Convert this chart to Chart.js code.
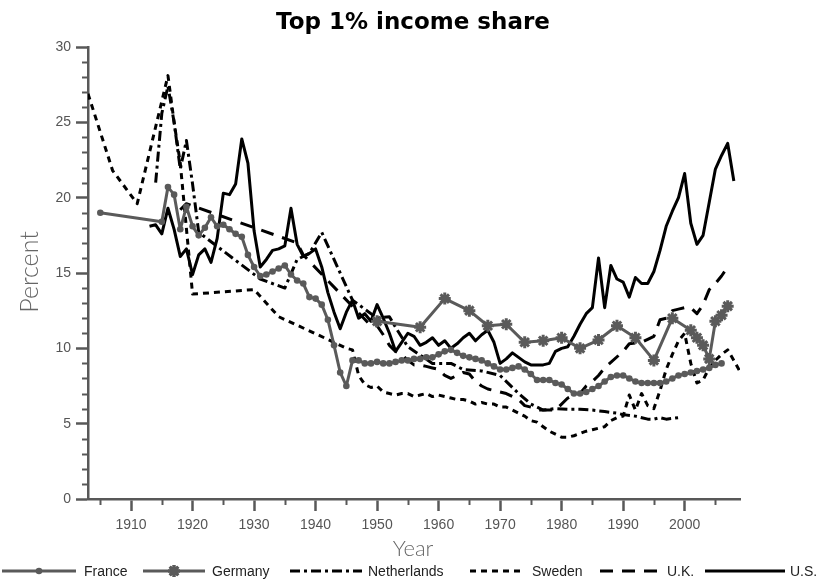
<!DOCTYPE html>
<html>
<head>
<meta charset="utf-8">
<script src="https://cdn.jsdelivr.net/npm/chart.js@4.4.1/dist/chart.umd.min.js"></script>
<style>
  html, body { margin: 0; padding: 0; background: #fff; }
  #wrap { width: 824px; height: 581px; }
</style>
</head>
<body>
<div id="wrap"><canvas id="myChart" width="824" height="581"></canvas></div>
<script>
// ---- data (top 1% income share, percent) ----
const franceYears = [1905,
  1915,1916,1917,1918,1919,1920,1921,1922,1923,1924,1925,1926,1927,1928,1929,
  1930,1931,1932,1933,1934,1935,1936,1937,1938,1939,1940,1941,1942,1943,1944,
  1945,1946,1947,1948,1949,1950,1951,1952,1953,1954,1955,1956,1957,1958,1959,
  1960,1961,1962,1963,1964,1965,1966,1967,1968,1969,1970,1971,1972,1973,1974,
  1975,1976,1977,1978,1979,1980,1981,1982,1983,1984,1985,1986,1987,1988,1989,
  1990,1991,1992,1993,1994,1995,1996,1997,1998,1999,2000,2001,2002,2003,2004,
  2005,2006];
const franceShare = [19.0,
  18.4,20.7,20.2,17.9,19.4,18.1,17.5,18.0,18.7,18.1,18.2,17.9,17.6,17.4,16.2,
  15.4,14.8,14.9,15.1,15.3,15.5,14.9,14.5,14.3,13.4,13.3,12.9,11.9,10.2,8.4,
  7.5,9.2,9.2,9.0,9.0,9.1,9.0,9.0,9.1,9.2,9.2,9.3,9.3,9.4,9.4,
  9.6,9.8,9.9,9.7,9.5,9.4,9.3,9.2,9.0,8.8,8.6,8.6,8.7,8.8,8.6,
  8.3,7.9,7.9,7.9,7.7,7.6,7.3,7.0,7.0,7.1,7.3,7.5,7.8,8.1,8.2,
  8.2,8.0,7.8,7.7,7.7,7.7,7.7,7.8,8.0,8.2,8.3,8.4,8.5,8.6,8.7,
  8.9,9.0];

const germanyYears = [1950,1957,1961,1965,1968,1971,1974,1977,1980,1983,1986,1989,
  1992,1995,1998,2001,2002,2003,2004,2005,2006,2007];
const germanyShare = [11.8,11.4,13.3,12.5,11.5,11.6,10.4,10.5,10.7,10.0,10.55,11.5,
  10.7,9.2,12.0,11.2,10.7,10.2,9.3,11.8,12.2,12.8];

const netherlandsYears = [1914,1915,1916,1917,1918,1919,1920,1921,1931,1935,1937,1939,
  1941,1946,1950,1952,1953,1955,1959,1962,1964,1967,1970,1973,1975,1977,1979,1981,
  1983,1985,1987,1989,1990,1992,1994,1995,1996,1997,1998,1999];
const netherlandsShare = [21.0,25.6,27.4,25.0,21.9,23.8,20.9,17.7,14.6,14.0,15.9,16.3,
  17.7,13.2,12.0,12.1,11.4,10.1,9.0,9.0,8.6,8.5,8.2,7.0,6.3,5.9,6.0,5.95,
  5.95,5.9,5.8,5.7,5.6,5.5,5.3,5.3,5.4,5.3,5.35,5.4];

const swedenYears = [1903,1907,1911,1916,1917,1918,1920,1930,1934,1943,1945,
  1946,1947,1948,1949,1950,1951,1952,1953,1954,1955,1956,1957,1958,1959,
  1960,1961,1962,1963,1964,1965,1966,1967,1968,1969,1970,1971,1972,1973,1974,
  1975,1976,1977,1978,1979,1980,1981,1982,1983,1984,1985,1986,1987,1988,1989,
  1990,1991,1992,1993,1994,1995,1996,1997,1998,1999,2000,2001,2002,2003,2004,
  2005,2006,2007,2008,2009];
const swedenShare = [26.9,21.8,19.6,28.1,25.0,22.3,13.6,13.9,12.1,10.4,10.0,
  9.9,8.2,7.6,7.4,7.5,7.1,7.0,6.9,7.0,7.0,6.8,6.9,7.0,6.8,
  6.9,6.8,6.7,6.6,6.6,6.5,6.3,6.4,6.3,6.3,6.1,6.1,5.9,5.7,5.5,
  5.2,5.1,4.8,4.5,4.3,4.1,4.1,4.2,4.35,4.5,4.6,4.7,4.8,5.2,5.4,
  5.5,6.9,5.9,7.0,6.2,6.0,7.2,8.6,9.6,10.5,11.0,9.0,7.7,7.9,8.7,
  9.2,9.6,9.9,9.2,8.45];

const ukYears = [1918,1919,1937,1938,1949,
  1950,1951,1952,1953,1954,1955,1956,1957,1958,1959,
  1960,1961,1962,1963,1964,1965,1966,1967,1968,1969,
  1970,1971,1972,1973,1974,1975,1976,1977,1978,1979,
  1981,1982,1983,1984,1985,1986,1987,1990,1991,
  1993,1994,1995,1996,1997,1998,1999,2000,2001,2002,2003,2004,2005,2006,2007];
const ukShare = [19.2,19.6,17.0,16.2,11.5,
  11.5,10.9,10.2,9.8,9.6,9.2,8.9,8.9,8.8,8.7,
  8.6,8.2,8.0,8.2,8.4,8.3,7.8,7.5,7.3,7.2,
  7.1,7.0,6.8,6.6,6.2,6.1,5.9,5.9,5.9,5.9,
  6.7,6.9,7.0,7.5,7.8,8.2,8.7,9.8,10.3,
  10.4,10.6,10.8,11.9,12.0,12.5,12.6,12.7,12.7,12.3,12.9,13.9,14.3,14.8,15.4];

const usYears = [1913,1914,1915,1916,1917,1918,1919,1920,1921,1922,1923,1924,1925,1926,
  1927,1928,1929,1930,1931,1932,1933,1934,1935,1936,1937,1938,1939,1940,1941,1942,
  1943,1944,1945,1946,1947,1948,1949,1950,1951,1952,1953,1954,1955,1956,1957,1958,
  1959,1960,1961,1962,1963,1964,1965,1966,1967,1968,1969,1970,1971,1972,1973,1974,
  1975,1976,1977,1978,1979,1980,1981,1982,1983,1984,1985,1986,1987,1988,1989,1990,
  1991,1992,1993,1994,1995,1996,1997,1998,1999,2000,2001,2002,2003,2004,2005,2006,
  2007,2008];
const usShare = [18.1,18.2,17.6,19.3,17.9,16.1,16.6,14.9,16.2,16.6,15.7,17.3,20.3,20.2,
  20.9,23.9,22.3,17.8,15.4,15.9,16.5,16.6,16.8,19.3,16.9,16.1,16.3,16.6,15.4,13.7,
  12.4,11.3,12.4,13.2,12.0,12.3,11.8,12.9,12.0,11.0,9.8,10.4,11.0,10.8,10.2,10.4,
  10.7,10.2,10.5,10.0,10.3,10.7,11.0,10.5,10.9,11.2,10.4,9.0,9.3,9.7,9.4,9.1,
  8.9,8.9,8.9,9.0,9.8,10.0,10.1,10.8,11.6,12.3,12.7,16.0,12.7,15.5,14.6,14.4,
  13.4,14.7,14.3,14.3,15.1,16.5,18.1,19.1,20.0,21.6,18.3,16.9,17.5,19.7,21.9,22.8,
  23.6,21.1];

const yTicks = [0, 5, 10, 15, 20, 25, 30];
const xTicks = [1910, 1920, 1930, 1940, 1950, 1960, 1970, 1980, 1990, 2000];

// ---- styling ----
const gray = '#5a5a5a';
const axisGray = '#585858';
const tickFont = { family: "'Liberation Sans', Arial, sans-serif", size: 14 };

function pts(xs, ys) {
  return xs.map((x, i) => ({ x: x, y: ys[i] }));
}

const datasets = [
  { label: 'France', data: pts(franceYears, franceShare), borderColor: gray, borderWidth: 3,
    pointRadius: 3.3, pointBackgroundColor: gray, pointBorderWidth: 0, pointStyle: 'circle' },
  { label: 'Germany', data: pts(germanyYears, germanyShare), borderColor: gray, borderWidth: 3,
    pointRadius: 6, pointStyle: 'star', pointBorderColor: gray, pointBorderWidth: 3 },
  { label: 'Netherlands', data: pts(netherlandsYears, netherlandsShare), borderColor: '#000',
    borderWidth: 3, borderDash: [10, 4, 3, 4], pointRadius: 0 },
  { label: 'Sweden', data: pts(swedenYears, swedenShare), borderColor: '#000',
    borderWidth: 3, borderDash: [6, 5], pointRadius: 0 },
  { label: 'U.K.', data: pts(ukYears, ukShare), borderColor: '#000',
    borderWidth: 3, borderDash: [13, 9], pointRadius: 0 },
  { label: 'U.S.', data: pts(usYears, usShare), borderColor: '#000',
    borderWidth: 3, pointRadius: 0 }
];
datasets.forEach(d => { d.fill = false; d.tension = 0; d.borderJoinStyle = 'round'; });

// legend layout: line start, line end, text start
const legendItems = [
  { label: 'France', x1: 2, x2: 76, tx: 84, ds: 0 },
  { label: 'Germany', x1: 143, x2: 205, tx: 212, ds: 1 },
  { label: 'Netherlands', x1: 290, x2: 362, tx: 368, ds: 2 },
  { label: 'Sweden', x1: 470, x2: 522, tx: 532, ds: 3 },
  { label: 'U.K.', x1: 600, x2: 660, tx: 667, ds: 4 },
  { label: 'U.S.', x1: 705, x2: 785, tx: 790, ds: 5 }
];

const extras = {
  id: 'extras',
  afterDraw(chart) {
    const { ctx, chartArea, scales } = chart;
    ctx.save();

    // minor ticks
    ctx.strokeStyle = axisGray;
    ctx.lineWidth = 2;
    for (let v = 0; v <= 30; v++) {
      if (v % 5 === 0) continue;
      const y = Math.round(scales.y.getPixelForValue(v)) + 0.5;
      ctx.beginPath();
      ctx.moveTo(chartArea.left - 6, y);
      ctx.lineTo(chartArea.left, y);
      ctx.stroke();
    }
    for (let yr = 1905; yr <= 2005; yr += 10) {
      const x = Math.round(scales.x.getPixelForValue(yr)) + 0.5;
      ctx.beginPath();
      ctx.moveTo(x, chartArea.bottom);
      ctx.lineTo(x, chartArea.bottom + 6);
      ctx.stroke();
    }

    // main title
    ctx.fillStyle = '#000';
    ctx.font = "bold 23px 'DejaVu Sans', sans-serif";
    ctx.textAlign = 'center';
    ctx.textBaseline = 'middle';
    ctx.fillText('Top 1% income share', 413, 23);

    // axis titles
    ctx.fillStyle = '#666';
    ctx.font = "300 22px Lato, 'Open Sans', sans-serif";
    ctx.fillText('Year', 413, 549);
    ctx.save();
    ctx.translate(30, 272);
    ctx.rotate(-Math.PI / 2);
    ctx.font = "300 25px Lato, 'Open Sans', sans-serif";
    ctx.fillText('Percent', 0, 0);
    ctx.restore();

    // legend
    const ly = 571;
    ctx.textAlign = 'left';
    ctx.font = "14px 'Liberation Sans', Arial, sans-serif";
    legendItems.forEach(item => {
      const ds = datasets[item.ds];
      ctx.strokeStyle = ds.borderColor;
      ctx.lineWidth = ds.borderWidth;
      ctx.setLineDash(ds.borderDash || []);
      ctx.beginPath();
      ctx.moveTo(item.x1, ly);
      ctx.lineTo(item.x2, ly);
      ctx.stroke();
      ctx.setLineDash([]);
      const mx = (item.x1 + item.x2) / 2;
      if (ds.pointStyle === 'circle') {
        ctx.fillStyle = gray;
        ctx.beginPath();
        ctx.arc(mx, ly, 3.3, 0, Math.PI * 2);
        ctx.fill();
      } else if (ds.pointStyle === 'star') {
        Chart.helpers.drawPoint(ctx, { pointStyle: 'star', radius: 6, borderWidth: 3 }, mx, ly);
        ctx.strokeStyle = gray;
        ctx.lineWidth = 3;
        ctx.stroke();
      }
      ctx.fillStyle = '#222';
      ctx.fillText(item.label, item.tx, ly + 1);
    });

    ctx.restore();
  }
};

const ctx = document.getElementById('myChart');

const chart = new Chart(ctx, {
  type: 'line',
  data: { datasets: datasets },
  options: {
    responsive: false,
    animation: false,
    events: [],
    layout: { padding: { top: 47, right: 84, left: 0, bottom: 0 } },
    plugins: {
      legend: { display: false },
      title: { display: false },
      tooltip: { enabled: false }
    },
    scales: {
      x: {
        type: 'linear',
        min: 1903,
        max: 2009,
        afterFit: (scale) => { scale.height = 82; },
        afterBuildTicks: (scale) => {
          scale.ticks = xTicks.map(v => ({ value: v }));
        },
        ticks: { color: '#555', font: tickFont, padding: 6, maxRotation: 0,
                 callback: (v) => String(v) },
        grid: { drawOnChartArea: false, tickLength: 12, tickWidth: 2.5, tickColor: axisGray },
        border: { display: true, color: axisGray, width: 2.5 }
      },
      y: {
        min: 0,
        max: 30,
        afterFit: (scale) => { scale.width = 88; },
        afterBuildTicks: (scale) => {
          scale.ticks = yTicks.map(v => ({ value: v }));
        },
        ticks: { color: '#555', font: tickFont, padding: 5 },
        grid: { drawOnChartArea: false, tickLength: 12, tickWidth: 2.5, tickColor: axisGray },
        border: { display: true, color: axisGray, width: 2.5 }
      }
    }
  },
  plugins: [extras]
});
</script>
</body>
</html>
